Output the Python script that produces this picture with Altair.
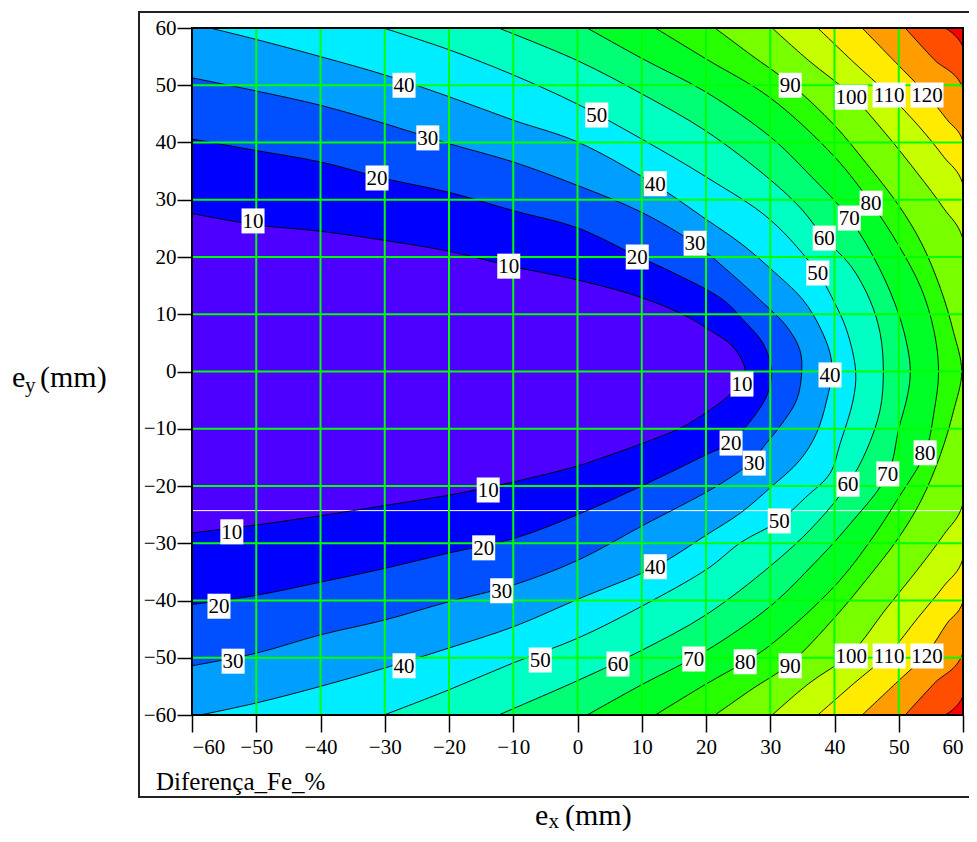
import altair as alt
import pandas as pd

# ---------------- data ----------------
tick_values = [-60, -50, -40, -30, -20, -10, 0, 10, 20, 30, 40, 50, 60]
grid_values = [-50, -40, -30, -20, -10, 0, 10, 20, 30, 40, 50]

levels = [10, 20, 30, 40, 50, 60, 70, 80, 90, 100, 110, 120, 130, 140]

# contour traces (x, y) ordered from top to bottom
c10_x = [-60, -50, -40, -30, -20, -10, 0, 10, 16.5, 20.6, 24.2, 26.1, 24.8, 22.7, 16.5, 10.2, 3.5, 0, -10, -20, -30, -40, -50, -60]
c10_y = [27.6, 25.6, 24.5, 22.9, 21.0, 18.3, 16.0, 12.9, 9.9, 7.2, 4.3, 0, -2.7, -5.0, -9.6, -12.5, -15.2, -16.5, -19.3, -21.6, -23.4, -25.2, -26.8, -28.2]

c20_x = [-60, -50, -40, -30, -20, -10, 0, 9.2, 15, 22.7, 25.8, 28.9, 30.2, 29.4, 25.8, 23.5, 20.3, 10, 0, -10, -20, -30, -40, -50, -60]
c20_y = [40.6, 38.6, 36.6, 33.7, 31.3, 28.1, 25.1, 20.2, 17.2, 12.5, 9.0, 4.9, 0, -4.4, -10.2, -12.7, -14.4, -20, -25, -29.2, -31.7, -34.4, -36.8, -39.1, -40.7]

c30_x = [-60, -50, -40, -30, -20, -10, 0, 10, 18.3, 24, 28.4, 32.6, 34.6, 34.9, 34.1, 31.5, 29.4, 27, 22, 10, 0, -10, -20, -30, -40, -50, -60]
c30_y = [51.3, 49.0, 46.5, 43.3, 39.8, 36.6, 32.5, 27.8, 22.3, 17, 12.5, 7.8, 3.8, 0, -5, -9.6, -12.5, -15.8, -19.8, -27, -33, -37.3, -40.2, -43.4, -46, -49.2, -51.4]

c40_x = [-57.2, -50, -40, -30, -20, -10, 0, 12, 20, 25.5, 30, 35.1, 37.7, 39.3, 39.6, 38.8, 37.2, 34.6, 30, 25.5, 20, 12.1, 0, -10, -20, -30, -40, -50, -58.7]
c40_y = [60, 58, 55, 51.8, 48, 43.9, 40.1, 32.7, 26.6, 22.3, 18, 12.5, 7.8, 3.2, 0, -5, -10.8, -15.5, -20.3, -24.6, -28.6, -34.1, -39.8, -44.6, -48.3, -51.8, -55, -57.9, -60]

c50_x = [-30.2, -20, -10, 0, 10, 20, 30, 37.4, 39.8, 41.9, 43.3, 42.9, 40.9, 39.3, 35.5, 31.4, 25.5, 20.3, 10, 0, -10, -20, -30.1]
c50_y = [60, 56.2, 51.8, 46.7, 40.6, 34, 26.5, 17.2, 12.5, 7.2, 0, -5, -12.5, -17.8, -22, -26.1, -29.8, -34.4, -41, -46.6, -50.9, -55.6, -60]

c60_x = [-12.3, 0, 10, 20, 30, 35, 38.4, 42.5, 45.5, 47.1, 47.6, 47.1, 45, 42.1, 36.5, 30, 20, 10, 0, -12.3]
c60_y = [60, 54.3, 48.5, 42, 33.5, 28.2, 23.3, 18.5, 12.5, 6.7, 0, -6.7, -13.7, -19.7, -27.3, -34, -42.5, -48.7, -54, -60]

c70_x = [1.5, 10, 20, 30, 36, 42.3, 47, 50, 51.4, 51.8, 51.4, 50, 48.3, 42.3, 36, 30, 20, 10, 1.5]
c70_y = [60, 54.7, 48.8, 41, 34.5, 26.8, 18, 10, 4, 0, -4, -10, -17.9, -26.8, -34.5, -41, -48.8, -54.7, -60]

c80_x = [12.1, 20, 30, 40, 45.7, 50, 53.5, 55.5, 56.2, 55.5, 54.1, 50, 45.7, 40, 30, 26.1, 20, 12.1]
c80_y = [60, 54.6, 47.8, 37.5, 29.4, 22, 14.5, 7, 0, -7, -14.2, -22, -29.4, -37.5, -47.8, -50.7, -54.6, -60]

c90_x = [21.4, 27, 33.1, 40, 45, 50, 53.5, 56.5, 58.5, 59.8, 58.5, 56.5, 53.5, 50, 45, 40, 33.1, 27, 21.4]
c90_y = [60, 55.3, 50.3, 43, 36.3, 29, 22.5, 14.5, 7, 0, -7, -14.5, -22.5, -29, -36.3, -43, -51, -55.6, -60]

c100_x = [30.3, 36, 42.6, 48, 53, 57, 60, 60, 57, 53, 48, 42.6, 36, 30.3]
c100_y = [60, 54.3, 48.3, 41.5, 34.5, 28.5, 23.1, -23.1, -28.5, -34.5, -41.5, -49.2, -54.5, -60]

c110_x = [37.4, 43, 48.5, 53, 57, 60, 60, 57, 53, 48.5, 43, 37.4]
c110_y = [60, 54, 48.3, 43, 37.5, 32.7, -32.7, -37.5, -43, -49.2, -54.5, -60]

c120_x = [44.3, 49.5, 54.4, 57.5, 60, 60, 57.5, 54.4, 49.5, 44.3]
c120_y = [60, 54, 48.3, 44, 40.2, -40.2, -44, -49.2, -54.5, -60]

c130_x = [51, 55.5, 60, 60, 55.5, 51]
c130_y = [60, 54.5, 49.5, -49.2, -54.5, -60]

c140_x = [57.2, 60, 60, 57.2]
c140_y = [60, 56.7, -56.7, -60]

contours = {
    10: (c10_x, c10_y), 20: (c20_x, c20_y), 30: (c30_x, c30_y), 40: (c40_x, c40_y),
    50: (c50_x, c50_y), 60: (c60_x, c60_y), 70: (c70_x, c70_y), 80: (c80_x, c80_y),
    90: (c90_x, c90_y), 100: (c100_x, c100_y), 110: (c110_x, c110_y),
    120: (c120_x, c120_y), 130: (c130_x, c130_y), 140: (c140_x, c140_y),
}

# colour of the band just below each level; above the top level is red
band_colors = {
    10: "#4D00FF", 20: "#0000FF", 30: "#0050FF", 40: "#009FFF", 50: "#00EDFF",
    60: "#00FFC3", 70: "#00FF74", 80: "#00FF26", 90: "#28FF00", 100: "#77FF00",
    110: "#C5FF00", 120: "#FFEB00", 130: "#FF9D00", 140: "#FF4E00",
}
top_color = "#FF0000"

# contour labels
lab_x = [-27.0, 3.0, 33.1, 42.6, 48.5, 54.4, -23.3, 12.1, -31.2, 45.7, 42.3, -50.5, 38.4, 18.3, 9.3, -10.7, 37.4, 39.3, 25.6,
         23.9, 27.5, 54.1, 48.3, 42.1, -13.9, 31.4, -53.8, -14.6, 12.1, -11.8, -55.8, -53.6, -27.0, -5.8, 6.3, 18.1, 26.1, 33.1, 42.6, 48.5, 54.4]
lab_y = [50.0, 44.8, 50.0, 47.9, 48.3, 48.3, 40.8, 32.8, 33.8, 29.4, 26.8, 26.3, 23.3, 22.4, 20.0, 18.4, 17.2, -0.6, -2.2,
         -12.5, -16.0, -14.2, -17.9, -19.7, -20.7, -26.1, -28.0, -30.8, -34.1, -38.3, -41.0, -50.6, -51.4, -50.4, -51.1, -50.2, -50.7, -51.4, -49.7, -49.7, -49.7]
lab_t = ["40", "50", "90", "100", "110", "120", "30", "40", "20", "80", "70", "10", "60", "30", "20", "10", "50", "40", "10",
         "20", "30", "80", "70", "60", "10", "50", "10", "20", "40", "30", "20", "30", "40", "50", "60", "70", "80", "90", "100", "110", "120"]

# ---------------- build tables ----------------
rows = []
for lev, (xs, ys) in contours.items():
    for i, (a, b) in enumerate(zip(xs, ys)):
        rows.append({"level": lev, "idx": i, "x": a, "y": b})
df = pd.DataFrame(rows)
labdf = pd.DataFrame({"x": lab_x, "y": lab_y, "t": lab_t})
labdf["n"] = labdf["t"].str.len()
gdf = pd.DataFrame({"g": grid_values})
one = pd.DataFrame({"a": [0]})

FONT = "Liberation Serif"
xscale = alt.Scale(domain=[-60, 60], nice=False, zero=False)
yscale = alt.Scale(domain=[-60, 60], nice=False, zero=False)
xaxis = alt.Axis(values=tick_values, title=None, grid=False, domain=False, format="d",
                 tickSize=17, tickWidth=1.5, tickColor="black",
                 labelFont=FONT, labelFontSize=21, labelColor="black", labelPadding=4)
yaxis = alt.Axis(values=tick_values, title=None, grid=False, domain=False, format="d",
                 tickSize=15, tickWidth=1.5, tickColor="black",
                 labelFont=FONT, labelFontSize=21, labelColor="black", labelPadding=1)


def X(f):
    return alt.X(f, scale=xscale, axis=xaxis)


def Y(f):
    return alt.Y(f, scale=yscale, axis=yaxis)


layers = []
base = alt.Chart(df)
for lev in reversed(levels):
    layers.append(
        base.transform_filter(alt.datum.level == lev)
        .mark_area(orient="horizontal", interpolate="catmull-rom", clip=True,
                   color=band_colors[lev])
        .encode(x=alt.X("x:Q", scale=xscale, axis=xaxis, stack=None),
                x2=alt.value(0), y=Y("y:Q"))
    )

# white scan artefact line
layers.append(alt.Chart(one).mark_rule(color="white", strokeWidth=1, clip=True)
              .encode(y=alt.datum(-24.3)))

# contour lines
layers.append(base.mark_line(color="black", strokeWidth=0.9, interpolate="catmull-rom", clip=True)
              .encode(x=X("x:Q"), y=Y("y:Q"), detail="level:N", order="idx:Q"))

# green grid
layers.append(alt.Chart(gdf).mark_rule(color="#00FF00", strokeWidth=2).encode(x=X("g:Q")))
layers.append(alt.Chart(gdf).mark_rule(color="#00FF00", strokeWidth=2).encode(y=Y("g:Q")))

# label boxes and text
lab = alt.Chart(labdf)
layers.append(lab.transform_filter(alt.datum.n == 2).mark_rect(fill="white", width=23, height=25)
              .encode(x=X("x:Q"), y=Y("y:Q")))
layers.append(lab.transform_filter(alt.datum.n == 3).mark_rect(fill="white", width=33, height=25)
              .encode(x=X("x:Q"), y=Y("y:Q")))
layers.append(lab.mark_text(font=FONT, fontSize=21, color="black", baseline="middle", align="center", dy=1)
              .encode(x=X("x:Q"), y=Y("y:Q"), text="t:N"))

# plot border
layers.append(alt.Chart(one).mark_rect(fillOpacity=0, stroke="black", strokeWidth=2)
              .encode(x=alt.datum(-60), x2=alt.datum(60), y=alt.datum(-60), y2=alt.datum(60)))

# outer frame
layers.append(alt.Chart(one).mark_rect(fillOpacity=0, stroke="#222222", strokeWidth=2)
              .encode(x=alt.value(-53), x2=alt.value(795), y=alt.value(-16), y2=alt.value(769)))


def txt(s, x, y, size, align="left"):
    return alt.Chart(one).mark_text(font=FONT, fontSize=size, color="black", align=align,
                                    baseline="alphabetic").encode(
        x=alt.value(x), y=alt.value(y), text=alt.value(s))


layers += [
    txt("e", 343, 797, 30), txt("x", 356.5, 800, 21), txt("(mm)", 373, 797, 30),
    txt("e", -180, 359, 30), txt("y", -167, 364, 21), txt("(mm)", -152, 359, 30),
    txt("Diferença_Fe_%", -36, 762, 25),
]

chart = alt.layer(*layers).properties(
    width=771, height=687,
    autosize=alt.AutoSizeParams(type="none"),
    padding={"left": 184, "top": 20, "right": 6, "bottom": 119},
).configure_view(fill=top_color, strokeWidth=0
).configure_axis(labelFont=FONT).configure_text(font=FONT)

chart.save("out.html", embed_options={"renderer": "svg", "actions": False})
